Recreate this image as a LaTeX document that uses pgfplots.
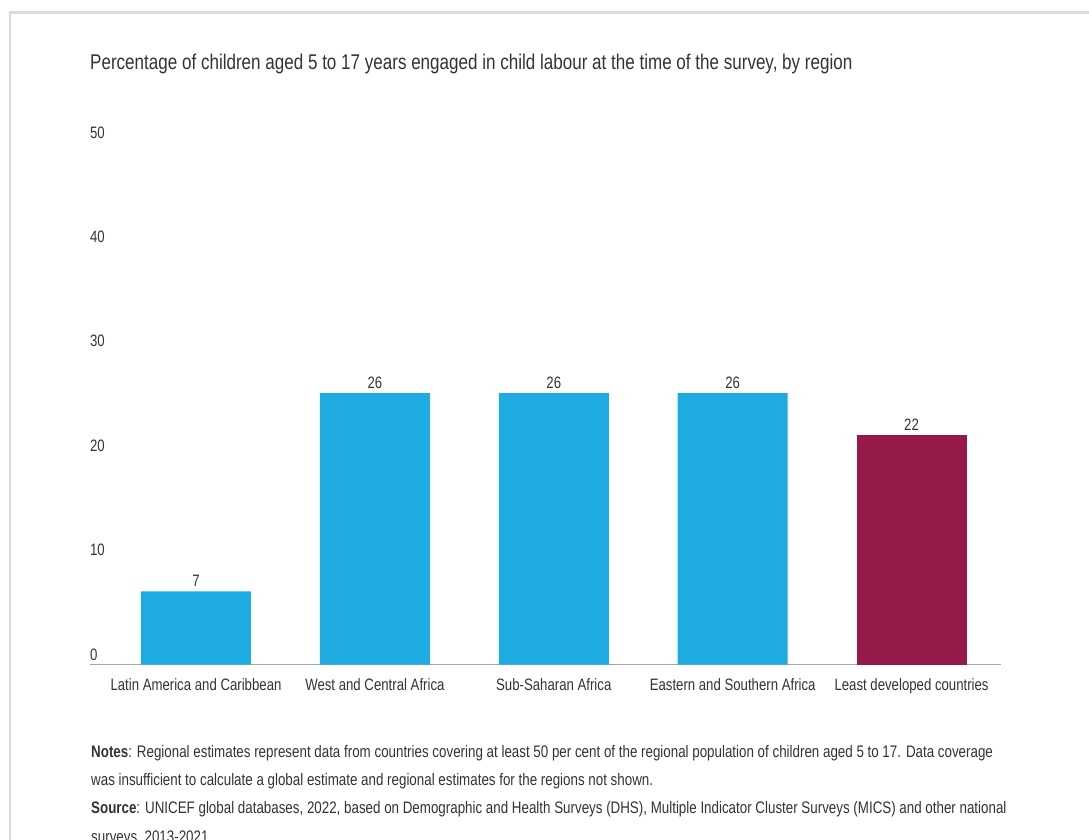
\documentclass[border=0pt]{standalone}
\usepackage{fontspec}
\setmainfont{Liberation Sans}[FakeStretch=0.8]
\usepackage{pgfplots}
\pgfplotsset{compat=1.18}
\definecolor{ublue}{HTML}{1DABE2}
\definecolor{umaroon}{HTML}{961A49}
\definecolor{txt}{HTML}{333333}
\definecolor{bordercol}{HTML}{DADADA}
\definecolor{axiscol}{HTML}{A6A6A6}
\begin{document}
\begin{tikzpicture}
\useasboundingbox (0,0) rectangle (1089pt,-839pt);
\draw[bordercol, line width=2.6pt] (10pt,-850pt) -- (10pt,-12.3pt) -- (1100pt,-12.3pt);
\node[anchor=base west, inner sep=0pt, text=txt, font=\fontsize{21.3}{25}\selectfont] at (90pt,-69pt)
  {Percentage of children aged 5 to 17 years engaged in child labour at the time of the survey, by region};
\begin{axis}[
  at={(90pt,-664.5pt)}, anchor=south west,
  scale only axis, width=911pt, height=522pt,
  xmin=-0.5925, xmax=4.5, ymin=0, ymax=50,
  clip=false,
  ybar, bar width=110pt,
  axis x line=bottom, axis y line=left,
  y axis line style={draw=none},
  x axis line style={-, draw=axiscol, line width=1.2pt},
  tick style={draw=none},
  ytick={0,10,20,30,40,50},
  xtick={0,1,2,3,4},
  xticklabels={Latin America and Caribbean, West and Central Africa, Sub-Saharan Africa, Eastern and Southern Africa, Least developed countries},
  yticklabel style={anchor=south west, inner sep=0pt, xshift=2pt, yshift=4pt, text=txt, font=\fontsize{16.5}{20}\selectfont},
  xticklabel style={anchor=north, inner sep=0pt, yshift=-12pt, text=txt, font=\fontsize{16.5}{20}\selectfont},
  /pgf/number format/assume math mode=true,
  nodes near coords,
  nodes near coords style={anchor=south, inner sep=0pt, yshift=4.5pt, text=txt, font=\fontsize{16.5}{20}\selectfont, /pgf/number format/assume math mode=true},
]
\addplot[draw=none, fill=ublue, bar shift=0pt] coordinates {(0,7) (1,26) (2,26) (3,26)};
\addplot[draw=none, fill=umaroon, bar shift=0pt] coordinates {(4,22)};
\end{axis}
\begin{scope}[every node/.style={anchor=base west, inner sep=0pt, text=txt, font=\fontsize{16.7}{20}\selectfont}]
\node at (91pt,-757pt) {\textbf{Notes}: Regional estimates represent data from countries covering at least 50 per cent of the regional population of children aged 5 to 17. Data coverage};
\node at (91pt,-785pt) {was insufficient to calculate a global estimate and regional estimates for the regions not shown.};
\node at (91pt,-813pt) {\textbf{Source}: UNICEF global databases, 2022, based on Demographic and Health Surveys (DHS), Multiple Indicator Cluster Surveys (MICS) and other national};
\node at (91pt,-842pt) {surveys, 2013-2021};
\end{scope}
\end{tikzpicture}
\end{document}
